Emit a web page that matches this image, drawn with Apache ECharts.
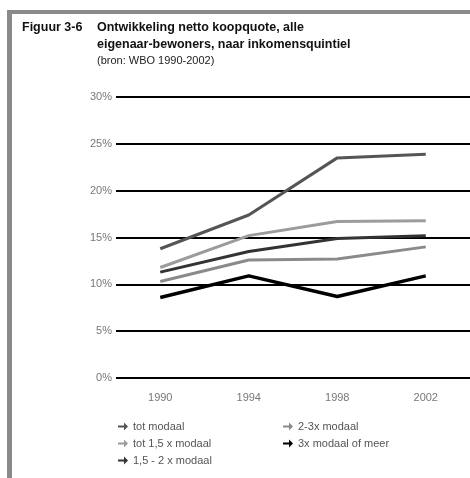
<!DOCTYPE html>
<html>
<head>
<meta charset="utf-8">
<script src="https://cdn.jsdelivr.net/npm/echarts@6/dist/echarts.min.js"></script>
<style>
  html, body { margin: 0; padding: 0; background: #fff; }
  #main { width: 470px; height: 478px; }
</style>
</head>
<body>
<div id="main"></div>
<script type="text/javascript">
// jaren op de x-as
var years = ['1990', '1994', '1998', '2002'];
// netto koopquote per inkomensgroep (%)
var totModaal = [13.8, 17.4, 23.5, 23.9];
var tot15Modaal = [11.8, 15.2, 16.7, 16.8];
var van15tot2Modaal = [11.3, 13.5, 14.9, 15.2];
var van2tot3Modaal = [10.3, 12.6, 12.7, 14.0];
var drieModaalMeer = [8.6, 10.9, 8.7, 10.9];
var seriesNames = ['tot modaal', 'tot 1,5 x modaal', '1,5 - 2 x modaal', '2-3x modaal', '3x modaal of meer'];
var seriesColors = ['#555555', '#9c9c9c', '#333333', '#8a8a8a', '#000000'];
var seriesData = [totModaal, tot15Modaal, van15tot2Modaal, van2tot3Modaal, drieModaalMeer];

var arrow = 'path://M0,3L6,3L6,0L10,4L6,8L6,5L0,5Z';
var fontFam = '"Liberation Sans", Arial, sans-serif';

var myChart = echarts.init(document.getElementById('main'));

var series = [];
for (var i = 0; i < seriesNames.length; i++) {
    series.push({
        name: seriesNames[i],
        type: 'line',
        data: seriesData[i],
        symbol: 'none',
        color: seriesColors[i],
        lineStyle: { width: i == 4 ? 3.5 : 3, color: seriesColors[i] }
    });
}

var legendText = { color: '#555', fontSize: 11, fontFamily: fontFam };

option = {
    animation: false,
    backgroundColor: '#fff',
    graphic: [
        // grijze kader links en boven
        { type: 'rect', shape: { x: 7, y: 10, width: 5, height: 468 }, style: { fill: '#8a8a8a' } },
        { type: 'rect', shape: { x: 7, y: 10, width: 463, height: 4 }, style: { fill: '#8a8a8a' } },
        { type: 'text', left: 22, top: 21, style: { text: 'Figuur 3-6', font: 'bold 12.5px ' + fontFam, fill: '#111' } },
        { type: 'text', left: 97, top: 21, style: { text: 'Ontwikkeling netto koopquote, alle', font: 'bold 12.5px ' + fontFam, fill: '#111' } },
        { type: 'text', left: 97, top: 38, style: { text: 'eigenaar-bewoners, naar inkomensquintiel', font: 'bold 12.5px ' + fontFam, fill: '#111' } },
        { type: 'text', left: 97, top: 55, style: { text: '(bron: WBO 1990-2002)', font: '11px ' + fontFam, fill: '#222' } }
    ],
    grid: { left: 116, right: 0, top: 97, bottom: 100 },
    legend: [
        {
            data: seriesNames.slice(0, 3), orient: 'vertical', left: 113, top: 416,
            icon: arrow, itemWidth: 10, itemHeight: 8, itemGap: 6, textStyle: legendText
        },
        {
            data: seriesNames.slice(3), orient: 'vertical', left: 278, top: 416,
            icon: arrow, itemWidth: 10, itemHeight: 8, itemGap: 6, textStyle: legendText
        }
    ],
    xAxis: {
        type: 'category',
        data: years,
        axisLine: { show: false },
        axisTick: { show: false },
        axisLabel: { color: '#777', fontSize: 11, margin: 14, fontFamily: fontFam }
    },
    yAxis: {
        type: 'value',
        min: 0,
        max: 30,
        interval: 5,
        axisLine: { show: false },
        axisTick: { show: false },
        axisLabel: { formatter: '{value}%', color: '#777', fontSize: 11, margin: 4, fontFamily: fontFam },
        splitLine: { lineStyle: { color: '#000', width: 2 } }
    },
    series: series
};
myChart.setOption(option);
</script>
</body>
</html>
